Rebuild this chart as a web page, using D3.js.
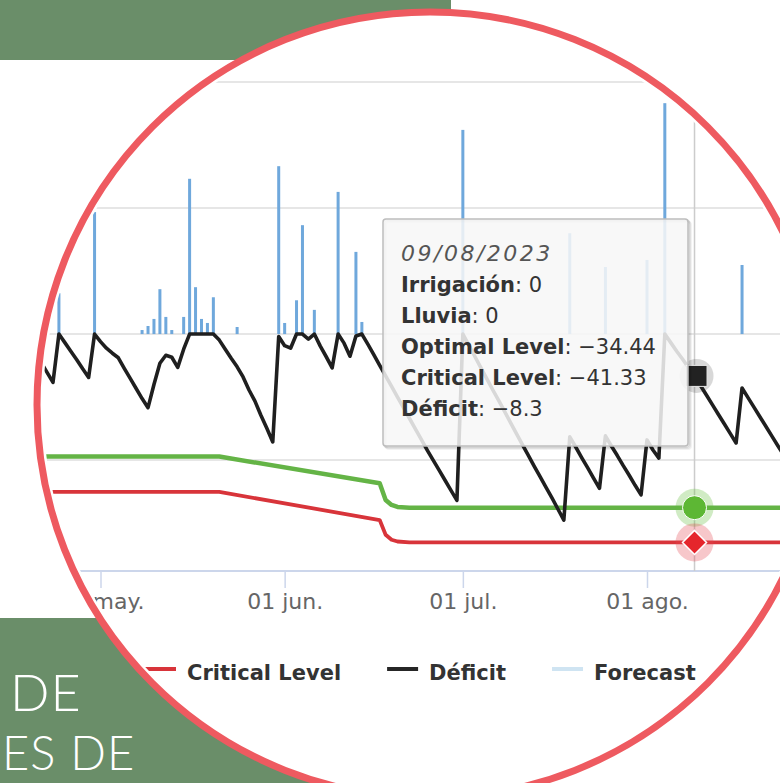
<!DOCTYPE html>
<html><head><meta charset="utf-8">
<script src="https://cdn.jsdelivr.net/npm/d3@7"></script>
<style>html,body{margin:0;padding:0;background:#fff;} svg{display:block;}</style>
</head><body>
<svg id="c" width="780" height="783"></svg>
<script>
// ---------- data ----------
const monthLabels = ["ene.","feb.","mar.","abr.","may.","jun.","jul.","ago.","sep.","oct.","nov.","dic."];
const tickDates = ["2023-05-01","2023-06-01","2023-07-01","2023-08-01"];
const gridValues = [-25, 0, 25, 50];

const rainDates = ["2023-04-24","2023-04-30","2023-05-08","2023-05-09","2023-05-10","2023-05-11","2023-05-12","2023-05-13",
  "2023-05-15","2023-05-16","2023-05-17","2023-05-18","2023-05-19","2023-05-20","2023-05-24","2023-05-31","2023-06-01",
  "2023-06-03","2023-06-04","2023-06-06","2023-06-10","2023-06-13","2023-06-14","2023-07-01","2023-07-19","2023-07-25",
  "2023-08-01","2023-08-04","2023-08-17"];
const rainValues = [8.1, 24.2, 0.8, 1.6, 3.0, 8.9, 3.4, 0.8,
  3.4, 30.8, 9.3, 3.0, 2.2, 7.3, 1.4, 33.3, 2.2,
  6.7, 21.6, 4.8, 28.2, 16.3, 2.4, 40.5, 20.0, 13.3,
  14.7, 45.8, 13.7];

const deficitStart = "2023-04-21";
const deficitValues = [
  -5.6,-7.6,-9.6,0,-1.7,-3.4,-5.1,-6.9,-8.6,0,               // Apr 21 - Apr 30
  -1.5,-2.8,-3.8,-4.7,-6.8,-8.8,-10.8,-12.8,-14.6,-10.0,     // May 1 - 10
  -5.8,-4.2,-4.6,-6.6,-3.0,0,0,0,0,0,                        // May 11 - 20
  -1.2,-3.0,-4.8,-6.5,-8.5,-11.1,-13.3,-16.1,-18.7,-21.4,-0.5, // May 21 - 31
  -2.3,-2.8,0,0,-1.0,0,-2.4,-4.5,-6.7,0,                     // Jun 1 - 10
  -1.8,-4.4,-0.4,0,-2.0,-4.1,-6.2,-8.3,-10.4,-12.5,          // Jun 11 - 20
  -14.6,-16.7,-18.8,-20.9,-23.0,-25.0,-27.0,-29.0,-31.0,-33.0, // Jun 21 - 30
  0,-2.2,-4.4,-6.6,-8.8,-11.0,-13.1,-15.3,-17.5,-19.7,       // Jul 1 - 10
  -21.9,-24.0,-26.2,-28.3,-30.4,-32.5,-34.7,-36.9,-20.4,-22.4, // Jul 11 - 20
  -24.5,-26.5,-28.6,-30.6,-20.2,-22.2,-24.1,-26.1,-28.0,-30.0,-31.9, // Jul 21 - 31
  -21.0,-23.0,-24.6,0,-1.7,-3.4,-5.0,-6.7,-8.3,-10.2,        // Aug 1 - 10
  -12.1,-14.0,-15.9,-17.8,-19.7,-21.6,-10.7,-12.6,-14.5,-16.4, // Aug 11 - 20
  -18.3,-20.2,-22.1,-24.0                                    // Aug 21 - 24
];

const optimalDates = ["2023-04-15","2023-05-21","2023-06-17","2023-06-18","2023-06-19","2023-06-20","2023-06-22","2023-09-01"];
const optimalValues = [-24.3,-24.3,-29.6,-32.9,-33.9,-34.3,-34.44,-34.44];
const criticalDates = ["2023-04-15","2023-05-21","2023-06-17","2023-06-18","2023-06-19","2023-06-20","2023-06-22","2023-09-01"];
const criticalValues = [-31.3,-31.3,-36.9,-39.8,-40.8,-41.15,-41.33,-41.33];

const legendNames = ["Critical Level","Déficit","Forecast"];
const legendColors = ["#d8343a","#262626","#cfe4f2"];

const tooltipDate = "2023-08-09";
const tooltipHeader = "09/08/2023";
const tooltipLabels = ["Irrigación","Lluvia","Optimal Level","Critical Level","Déficit"];
const tooltipValues = [0, 0, -34.44, -41.33, -8.3];

const bannerLines = ["DE","ES DE"];

// ---------- drawing ----------
const GREEN = "#6a8e69";
const RING = "#ee5a60";
const FONT = "DejaVu Sans, Verdana, sans-serif";
const svg = d3.select("#c");
const parse = d3.utcParse("%Y-%m-%d");
const x = d3.scaleUtc().domain([parse("2023-05-01"), parse("2023-08-01")]).range([100.5, 647]);
const y = d3.scaleLinear().domain([-47, 50]).range([571, 82]);
const yRain = d3.scaleLinear().domain([0, 50]).range([y(0), y(50)]);
const cx = 430, cy = 405, R = 393;

// green panels
svg.append("rect").attr("x",0).attr("y",0).attr("width",451).attr("height",60).attr("fill",GREEN);
svg.append("rect").attr("x",0).attr("y",618).attr("width",400).attr("height",165).attr("fill",GREEN);
// white disc
svg.append("circle").attr("cx",cx).attr("cy",cy).attr("r",R).attr("fill","#fff");

svg.append("defs").append("clipPath").attr("id","clip")
  .append("circle").attr("cx",cx).attr("cy",cy).attr("r",387);
const g = svg.append("g").attr("clip-path","url(#clip)");

// grid
g.selectAll(".grid").data(gridValues).join("line")
  .attr("x1",0).attr("x2",780).attr("y1",d=>y(d)).attr("y2",d=>y(d))
  .attr("stroke","#e6e6e6").attr("stroke-width",2);

// x axis
g.append("line").attr("x1",0).attr("x2",780).attr("y1",y(-47)).attr("y2",y(-47))
  .attr("stroke","#ccd6eb").attr("stroke-width",2);
const axis = d3.axisBottom(x).tickValues(tickDates.map(parse)).tickSize(17).tickSizeOuter(0)
  .tickFormat(d => d3.utcFormat("%d")(d) + " " + monthLabels[d.getUTCMonth()]);
const ag = g.append("g").attr("transform",`translate(0,${y(-47)})`).call(axis);
ag.select(".domain").remove();
ag.selectAll(".tick line").attr("stroke","#ccd6eb").attr("stroke-width",1.5);
ag.selectAll(".tick text").attr("y",38).attr("dy",0).attr("fill","#666")
  .style("font-family",FONT).style("font-size","22px");

// crosshair
const hx = x(parse(tooltipDate));
g.append("line").attr("x1",hx).attr("x2",hx).attr("y1",y(50)).attr("y2",y(-47))
  .attr("stroke","#cccccc").attr("stroke-width",1.5);

// rain bars
g.selectAll(".bar").data(rainDates.map((d,i)=>({d:parse(d), v:rainValues[i]}))).join("rect")
  .attr("x",d=>x(d.d)-1.5).attr("width",3)
  .attr("y",d=>yRain(d.v)).attr("height",d=>yRain(0)-yRain(d.v))
  .attr("fill","#6fa8dc");

// level lines
const lineLev = d3.line().x(d=>x(d.d)).y(d=>y(d.v));
const optimal = optimalDates.map((d,i)=>({d:parse(d), v:optimalValues[i]}));
const critical = criticalDates.map((d,i)=>({d:parse(d), v:criticalValues[i]}));
g.append("path").datum(optimal).attr("d",lineLev).attr("fill","none")
  .attr("stroke","#64b446").attr("stroke-width",4.5).attr("stroke-linejoin","round");
g.append("path").datum(critical).attr("d",lineLev).attr("fill","none")
  .attr("stroke","#d8343a").attr("stroke-width",3.8).attr("stroke-linejoin","round");

// deficit line
const d0 = parse(deficitStart);
const deficit = deficitValues.map((v,i)=>({d:d3.utcDay.offset(d0,i), v}));
g.append("path").datum(deficit)
  .attr("d", d3.line().x(d=>x(d.d)).y(d=>y(d.v)))
  .attr("fill","none").attr("stroke","#1f1f1f").attr("stroke-width",3.6)
  .attr("stroke-linejoin","round");

// hover markers
const defY = y(tooltipValues[4]), optY = y(tooltipValues[2]), critY = y(tooltipValues[3]);
g.append("circle").attr("cx",hx+2).attr("cy",defY).attr("r",17).attr("fill","rgba(40,40,40,0.18)");
g.append("rect").attr("x",hx+2-10.5).attr("y",defY-10.5).attr("width",21).attr("height",21)
  .attr("fill","#222").attr("stroke","#e8e8e8").attr("stroke-width",1);
g.append("circle").attr("cx",hx).attr("cy",optY).attr("r",19).attr("fill","rgba(100,190,60,0.3)");
g.append("circle").attr("cx",hx).attr("cy",optY).attr("r",12).attr("fill","#5db734")
  .attr("stroke","#fff").attr("stroke-width",1);
g.append("circle").attr("cx",hx).attr("cy",critY).attr("r",19).attr("fill","rgba(230,70,80,0.3)");
g.append("path").attr("d",`M${hx},${critY-12}L${hx+12},${critY}L${hx},${critY+12}L${hx-12},${critY}Z`)
  .attr("fill","#e5262c").attr("stroke","#fff").attr("stroke-width",1.5);

// tooltip
const tt = g.append("g").attr("transform","translate(383,219)");
[[3,0.05],[2,0.07],[1,0.1]].forEach(([o,a])=>{
  tt.append("rect").attr("x",o).attr("y",o).attr("width",305).attr("height",227).attr("rx",3)
    .attr("fill","none").attr("stroke",`rgba(0,0,0,${a})`).attr("stroke-width",2);
});
tt.append("rect").attr("width",305).attr("height",227).attr("rx",3)
  .attr("fill","rgba(247,247,247,0.86)").attr("stroke","#bdbdbd").attr("stroke-width",1.5);
tt.append("text").attr("x",18).attr("y",42).text(tooltipHeader)
  .style("font-family",FONT).style("font-size","22px").style("font-style","italic")
  .style("letter-spacing","2.5px").attr("fill","#555");
const fmt = v => (v<0 ? "\u2212" + Math.abs(v) : String(v));
tooltipLabels.forEach((lab,i)=>{
  const t = tt.append("text").attr("x",18).attr("y",73+i*31)
    .style("font-family",FONT).style("font-size","21px").attr("fill","#333");
  t.append("tspan").style("font-weight","bold").text(lab);
  t.append("tspan").text(": " + fmt(tooltipValues[i]));
});

// legend
let lx = 145;
const ly = 669;
legendNames.forEach((name,i)=>{
  g.append("line").attr("x1",lx).attr("x2",lx+31).attr("y1",ly).attr("y2",ly)
    .attr("stroke",legendColors[i]).attr("stroke-width",4);
  const t = g.append("text").attr("x",lx+42).attr("y",ly+10.5).text(name)
    .style("font-family",FONT).style("font-size","21px").style("font-weight","bold").attr("fill","#333");
  lx = lx + 42 + t.node().getComputedTextLength() + 46;
});

// ring
svg.append("circle").attr("cx",cx).attr("cy",cy).attr("r",R).attr("fill","none")
  .attr("stroke",RING).attr("stroke-width",7);

// banner text
svg.append("text").attr("x",10).attr("y",711).text(bannerLines[0])
  .style("font-family","Lato, 'Open Sans', sans-serif").style("font-weight",300).style("font-size","52px")
  .style("letter-spacing","1px").attr("fill","#fff");
svg.append("text").attr("x",2).attr("y",770).text(bannerLines[1])
  .style("font-family","Lato, 'Open Sans', sans-serif").style("font-weight",300).style("font-size","47px")
  .style("letter-spacing","1px").attr("fill","#fff");
</script>
</body></html>
